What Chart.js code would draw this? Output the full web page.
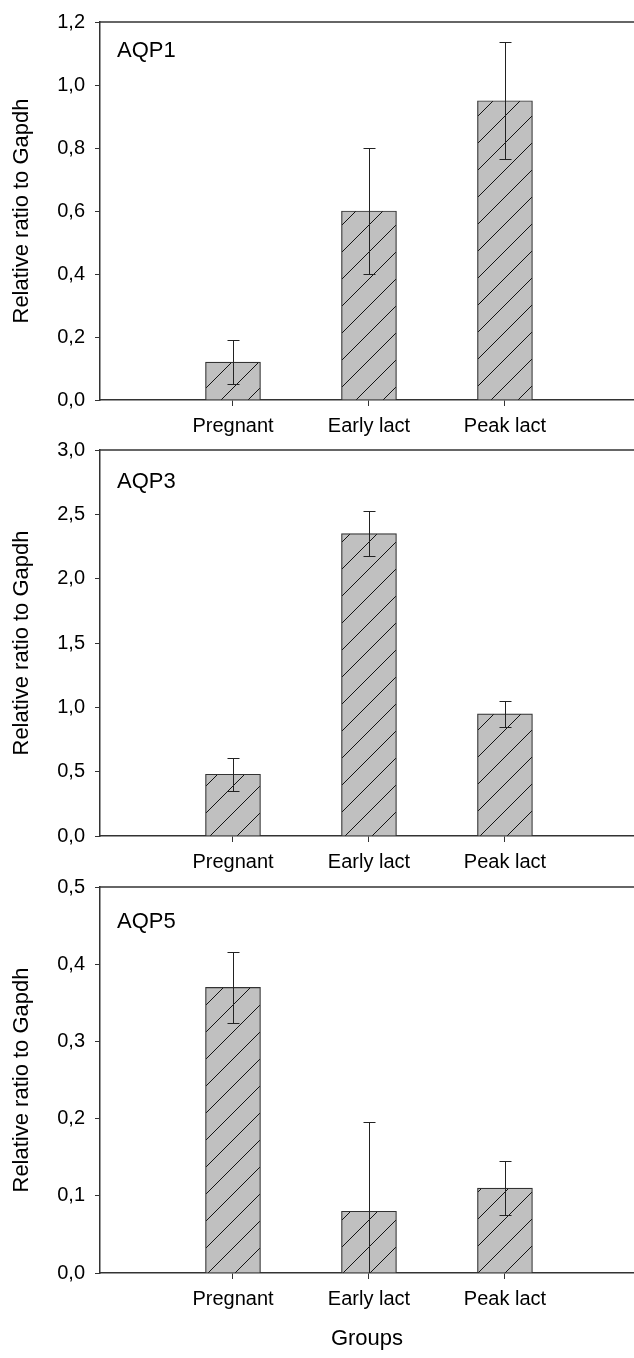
<!DOCTYPE html>
<html>
<head>
  <meta charset="UTF-8">
  <title>AQP1, AQP3, AQP5 relative to Gapdh</title>
  <script src="https://cdn.jsdelivr.net/npm/chart.js"></script>
  <style>
    body {
      margin: 0;
      background: #fff;
    }

    .wrap {
      position: relative;
      width: 634px;
      height: 1358px;
    }

    .wrap canvas {
      position: absolute;
      left: 0;
    }
  </style>
</head>
<body>
  <div class="wrap">
    <canvas id="aqp1" width="634" height="445" style="top:0"></canvas>
    <canvas id="aqp3" width="634" height="455" style="top:425px"></canvas>
    <canvas id="aqp5" width="634" height="498" style="top:860px"></canvas>
  </div>

  <script>
    // groups on the x axis
    const categories = ['Pregnant', 'Early lact', 'Peak lact'];
    const groupPos = [1, 2, 3];

    // mean and error (half bar) for each gene
    const aqp1Mean = [0.12, 0.60, 0.95];
    const aqp1Err = [0.07, 0.20, 0.185];
    const aqp3Mean = [0.48, 2.35, 0.95];
    const aqp3Err = [0.13, 0.175, 0.10];
    const aqp5Mean = [0.37, 0.08, 0.11];
    const aqp5Err = [0.046, 0.116, 0.035];

    // y axis ranges
    const aqp1Ticks = [0, 1.2, 0.2];
    const aqp3Ticks = [0, 3.0, 0.5];
    const aqp5Ticks = [0, 0.5, 0.1];

    const family = 'Arial, "Liberation Sans", sans-serif';
    const ink = '#333';

    function hatch() {
      const s = 27;
      const c = document.createElement('canvas');
      c.width = s; c.height = s;
      const g = c.getContext('2d');
      g.fillStyle = '#c0c0c0';
      g.fillRect(0, 0, s, s);
      g.strokeStyle = '#111';
      g.lineWidth = 1;
      g.beginPath();
      g.moveTo(-2, s + 2); g.lineTo(s + 2, -2);
      g.moveTo(-2, 2); g.lineTo(2, -2);
      g.moveTo(s - 2, s + 2); g.lineTo(s + 2, s - 2);
      g.stroke();
      return g.createPattern(c, 'repeat');
    }

    const errorBars = {
      id: 'errorBars',
      afterDatasetsDraw(chart, args, opts) {
        const { ctx, chartArea: a, scales: { y } } = chart;
        const meta = chart.getDatasetMeta(0);
        ctx.save();
        ctx.beginPath();
        ctx.rect(a.left, a.top - 1, a.right - a.left, a.bottom - a.top + 1);
        ctx.clip();
        ctx.strokeStyle = '#222';
        ctx.lineWidth = 1;
        meta.data.forEach((bar, i) => {
          const x = Math.round(bar.x) + 0.5;
          const hi = Math.round(y.getPixelForValue(opts.mean[i] + opts.err[i])) + 0.5;
          const lo = Math.round(y.getPixelForValue(opts.mean[i] - opts.err[i])) + 0.5;
          ctx.beginPath();
          ctx.moveTo(x, hi); ctx.lineTo(x, lo);
          ctx.moveTo(x - 6, hi); ctx.lineTo(x + 6, hi);
          ctx.moveTo(x - 6, lo); ctx.lineTo(x + 6, lo);
          ctx.stroke();
        });
        ctx.restore();
      }
    };

    // top frame line + gene name inside the plot
    const frame = {
      id: 'frame',
      afterDraw(chart, args, opts) {
        const { ctx, chartArea: a } = chart;
        ctx.save();
        ctx.strokeStyle = ink;
        ctx.lineWidth = 1.5;
        ctx.beginPath();
        ctx.moveTo(a.left, a.top);
        ctx.lineTo(a.right, a.top);
        ctx.stroke();
        ctx.fillStyle = '#000';
        ctx.font = '22px ' + family;
        ctx.textBaseline = 'middle';
        ctx.fillText(opts.name, a.left + 17, a.top + opts.nameOffset);
        ctx.restore();
      }
    };

    const panels = [
      { id: 'aqp1', name: 'AQP1', mean: aqp1Mean, err: aqp1Err, ticks: aqp1Ticks, padTop: 16, xHeight: 45, nameOffset: 29, groups: false },
      { id: 'aqp3', name: 'AQP3', mean: aqp3Mean, err: aqp3Err, ticks: aqp3Ticks, padTop: 25, xHeight: 44, nameOffset: 32, groups: false },
      { id: 'aqp5', name: 'AQP5', mean: aqp5Mean, err: aqp5Err, ticks: aqp5Ticks, padTop: 27, xHeight: 85, nameOffset: 35, groups: true }
    ];

    const fill = hatch();

    panels.forEach(p => {
      new Chart(document.getElementById(p.id), {
        type: 'bar',
        data: {
          datasets: [{
            data: groupPos.map((x, i) => ({ x: x, y: p.mean[i] })),
            backgroundColor: fill,
            borderColor: ink,
            borderWidth: 1.2,
            barThickness: 55
          }]
        },
        options: {
          responsive: false,
          animation: false,
          layout: { padding: { top: p.padTop, left: 0, right: 0, bottom: 0 } },
          plugins: {
            legend: { display: false },
            tooltip: { enabled: false },
            errorBars: { mean: p.mean, err: p.err },
            frame: { name: p.name, nameOffset: p.nameOffset }
          },
          scales: {
            x: {
              type: 'linear',
              min: 0.022,
              max: 3.949,
              offset: false,
              afterBuildTicks: s => { s.ticks = groupPos.map(v => ({ value: v })); },
              afterFit: s => { s.height = p.xHeight; },
              grid: { drawOnChartArea: false, offset: false, tickLength: 6, color: ink },
              border: { color: ink, width: 1.5 },
              ticks: {
                callback: v => categories[groupPos.indexOf(v)],
                color: '#000',
                font: { size: 20, family: family },
                padding: 8,
                maxRotation: 0,
                autoSkip: false
              },
              title: {
                display: p.groups,
                text: 'Groups',
                color: '#000',
                font: { size: 22, family: family },
                padding: { top: 0, bottom: 6 }
              }
            },
            y: {
              min: p.ticks[0],
              max: p.ticks[1],
              afterFit: s => { s.width = 100; },
              grid: { drawOnChartArea: false, tickLength: 5, color: ink },
              border: { color: ink, width: 1.5 },
              ticks: {
                stepSize: p.ticks[2],
                callback: v => v.toFixed(1).replace('.', ','),
                color: '#000',
                font: { size: 20, family: family },
                padding: 10
              },
              title: {
                display: true,
                text: 'Relative ratio to Gapdh',
                color: '#000',
                font: { size: 22, family: family },
                padding: { top: 9, bottom: 0 }
              }
            }
          }
        },
        plugins: [errorBars, frame]
      });
    });
  </script>
</body>
</html>
